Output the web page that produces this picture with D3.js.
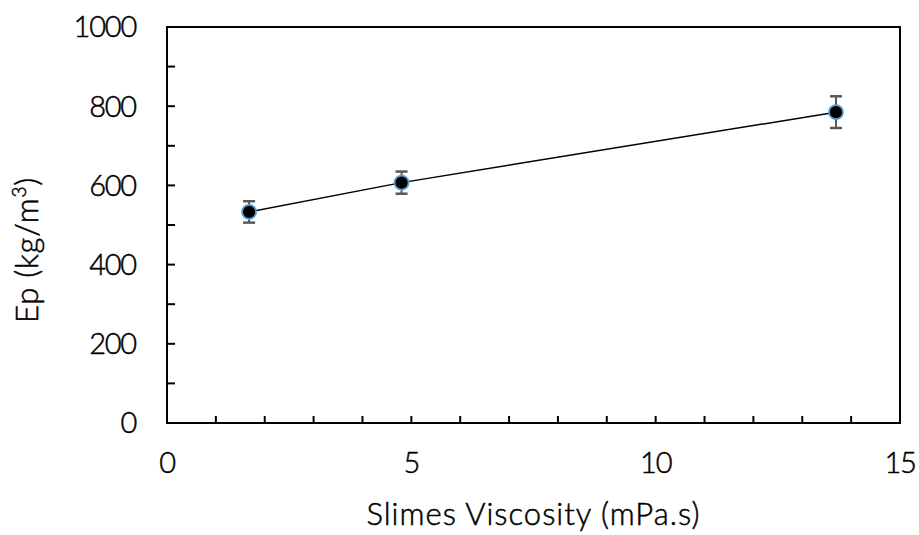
<!DOCTYPE html>
<html>
<head>
<meta charset="utf-8">
<script src="https://cdn.jsdelivr.net/npm/d3@7/dist/d3.min.js"></script>
<style>
  html, body { margin: 0; padding: 0; background: #fff; }
  svg { display: block; }
  text { font-family: Lato, "Open Sans", sans-serif; font-weight: 300; fill: #000; stroke: #000; stroke-width: 0.5px; }
</style>
</head>
<body>
<svg id="chart" width="919" height="535"></svg>
<script>
// Slimes viscosity (mPa.s) vs Ep (kg/m3), with error bars
const viscosity = [1.68, 4.80, 13.69];
const ep = [533, 607, 785];
const epError = [27, 28, 40];

const xTickValues = [0, 5, 10, 15];
const yTickValues = [0, 200, 400, 600, 800, 1000];

const svg = d3.select("#chart");
const margin = { left: 167, right: 19, top: 27, bottom: 112 };
const width = 919, height = 535;

const x = d3.scaleLinear().domain([0, 15]).range([margin.left, width - margin.right]);
const y = d3.scaleLinear().domain([0, 1000]).range([height - margin.bottom, margin.top]);

const x0 = x(0), x1 = x(15), y0 = y(0), y1 = y(1000);

// Frame
svg.append("rect")
  .attr("x", x0).attr("y", y1)
  .attr("width", x1 - x0).attr("height", y0 - y1)
  .attr("fill", "none").attr("stroke", "#000").attr("stroke-width", 2);

// Minor inward ticks
svg.append("g").selectAll("line")
  .data(d3.range(1, 15))
  .join("line")
  .attr("x1", d => x(d)).attr("x2", d => x(d))
  .attr("y1", y0).attr("y2", y0 - 7)
  .attr("stroke", "#000").attr("stroke-width", 2);

svg.append("g").selectAll("line")
  .data(d3.range(100, 1000, 100))
  .join("line")
  .attr("x1", x0).attr("x2", x0 + 8)
  .attr("y1", d => y(d)).attr("y2", d => y(d))
  .attr("stroke", "#000").attr("stroke-width", 2);

// Tick labels
svg.append("g").selectAll("text")
  .data(xTickValues)
  .join("text")
  .attr("x", d => x(d)).attr("y", y0 + 50)
  .attr("text-anchor", "middle")
  .attr("font-size", 29)
  .attr("letter-spacing", -1.2)
  .text(d => d);

svg.append("g").selectAll("text")
  .data(yTickValues)
  .join("text")
  .attr("x", x0 - 31).attr("y", d => y(d))
  .attr("dy", "0.36em")
  .attr("text-anchor", "end")
  .attr("font-size", 29)
  .attr("letter-spacing", -1.2)
  .text(d => d);

// Axis titles
svg.append("text")
  .attr("x", x(7.5)).attr("y", 525)
  .attr("text-anchor", "middle")
  .attr("font-size", 31)
  .attr("letter-spacing", 1)
  .text("Slimes Viscosity (mPa.s)");

const yTitle = svg.append("text")
  .attr("transform", "translate(38,250) rotate(-90)")
  .attr("text-anchor", "middle")
  .attr("font-size", 31)
  .attr("letter-spacing", 0.8);
yTitle.append("tspan").text("Ep (kg/m");
yTitle.append("tspan").attr("font-size", 19).attr("dy", -12).text("3");
yTitle.append("tspan").attr("dy", 12).text(")");

// Connecting line
const pts = viscosity.map((v, i) => [v, ep[i]]);
svg.append("path")
  .datum(pts)
  .attr("fill", "none")
  .attr("stroke", "#000")
  .attr("stroke-width", 1.5)
  .attr("d", d3.line().x(d => x(d[0])).y(d => y(d[1])));

// Error bars
const eb = svg.append("g").attr("stroke", "#595959").attr("stroke-width", 2);
pts.forEach((d, i) => {
  const cx = x(d[0]);
  eb.append("line").attr("x1", cx).attr("x2", cx)
    .attr("y1", y(d[1] - epError[i])).attr("y2", y(d[1] + epError[i]));
  [d[1] - epError[i], d[1] + epError[i]].forEach(v => {
    eb.append("line").attr("x1", cx - 6).attr("x2", cx + 6)
      .attr("y1", y(v)).attr("y2", y(v)).attr("stroke-width", 2.5);
  });
});

// Markers
svg.append("g").selectAll("circle")
  .data(pts)
  .join("circle")
  .attr("cx", d => x(d[0])).attr("cy", d => y(d[1]))
  .attr("r", 7)
  .attr("fill", "#000")
  .attr("stroke", "#5b9bd5")
  .attr("stroke-width", 1.8);
</script>
</body>
</html>
